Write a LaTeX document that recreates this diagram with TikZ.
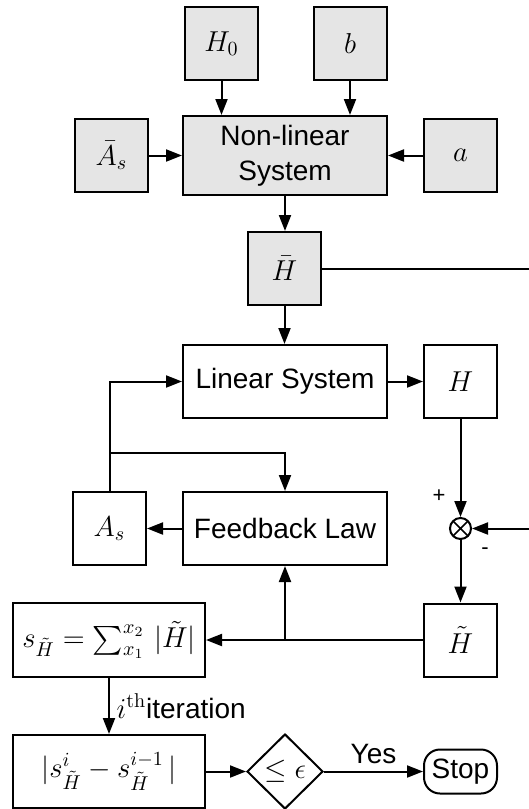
\documentclass[tikz,border=0pt]{standalone}
\usepackage{amsmath}
\usepackage[no-math]{fontspec}
\setmainfont{Liberation Sans}
\usepackage{tikz}
\usetikzlibrary{arrows.meta}
\usetikzlibrary{shapes.geometric}

\tikzset{
  inbox/.style={draw, fill=black!10, minimum width=36.5pt, minimum height=36.5pt, inner sep=0pt},
  outbox/.style={draw, minimum width=36.5pt, minimum height=36.5pt, inner sep=0pt},
  mixer/.style={draw, circle, minimum size=10.5pt, inner sep=0pt,
    path picture={\draw[line width=0.8pt]
      (path picture bounding box.north west) -- (path picture bounding box.south east)
      (path picture bounding box.south west) -- (path picture bounding box.north east);}},
  decision/.style={draw, diamond, minimum width=38pt, minimum height=37.5pt, inner sep=0pt},
  terminal/.style={draw, rounded corners=8pt, minimum width=36.5pt, minimum height=22pt, inner sep=0pt},
  sign/.style={font=\fontsize{11}{12}\selectfont, inner sep=0pt}
}

\begin{document}
\begin{tikzpicture}[x=0.5pt, y=-0.5pt, line width=1pt,
  font=\fontsize{14}{17.5}\selectfont, >={Triangle[length=8pt, width=6pt]}]

  \useasboundingbox (0,0) rectangle (529,809);

  % inputs and the non-linear part
  \draw (221.5,43.5) node[name=h0, inbox] {$H_0$};
  \draw (350,43.5) node[name=b, inbox] {$b$};
  \draw (285,155.5) node[name=nls, inbox, minimum width=102pt, minimum height=39.5pt, align=center] {Non-linear\\System};
  \draw (111.5,155.5) node[name=abar, inbox] {$\bar{A}_s$};
  \draw (460.5,155.5) node[name=a, inbox] {$a$};
  \draw (284.5,268.5) node[name=hbar, inbox] {$\bar{H}$};

  % linear loop
  \draw (285,381.5) node[name=lin, outbox, minimum width=102pt] {Linear System};
  \draw (460.5,381.5) node[name=h, outbox] {$H$};
  \draw (109.5,528.5) node[name=as, outbox] {$A_s$};
  \draw (285,528.5) node[name=fb, outbox, minimum width=102pt] {Feedback Law};
  \draw (460.5,528.5) node[name=mix, mixer] {};
  \draw (109,640) node[name=sum, outbox, minimum width=96pt, minimum height=37pt] {$s_{\tilde{H}} = \sum_{x_1}^{x_2} \, |\tilde{H}|$};
  \draw (460.5,640) node[name=ht, outbox] {$\tilde{H}$};

  % stopping test
  \draw (109,771.5) node[name=diff, outbox, minimum width=96pt] {$|s^{i}_{\tilde{H}} - s^{i-1}_{\tilde{H}}\,|$};
  \draw (285,771.5) node[name=test, decision] {$\leq \epsilon$};
  \draw (460.5,771.5) node[name=stop, terminal] {Stop};

  \draw (439,496) node[name=plus, sign] {+};
  \draw (485,551) node[name=minus, sign] {-};

  \coordinate (rimtop) at (529,268.5);
  \coordinate (rimlow) at (529,528.5);
  \coordinate (split) at (as.north |- 0,453);
  \coordinate (tap) at (fb.south |- ht.west);

  \draw [->] (h0.south) -- (h0.south |- nls.north);
  \draw [->] (b.south) -- (b.south |- nls.north);
  \draw [->] (abar.east) -- (nls.west);
  \draw [->] (a.west) -- (nls.east);
  \draw [->] (nls.south) -- (nls.south |- hbar.north);
  \draw (hbar.east) -- (rimtop);
  \draw [->] (hbar.south) -- (hbar.south |- lin.north);

  \draw [->] (lin.east) -- (h.west);
  \draw [->] (h.south) -- (mix.north);
  \draw [->] (rimlow) -- (mix.east);
  \draw [->] (mix.south) -- (ht.north);
  \draw [->] (fb.west) -- (as.east);
  \draw [->] (as.north) |- (lin.west);
  \draw [->] (split) -| (fb.north);
  \draw [->] (ht.west) -- (sum.east);
  \draw [->] (tap) -- (fb.south);

  \draw [->] (sum.south) -- node[midway, right] {$i^{\mathrm{th}}$iteration} (diff.north);
  \draw [->] (diff.east) -- (test.west);
  \draw [->] (test.east) -- node[midway, above] {Yes} (stop.west);

\end{tikzpicture}
\end{document}
